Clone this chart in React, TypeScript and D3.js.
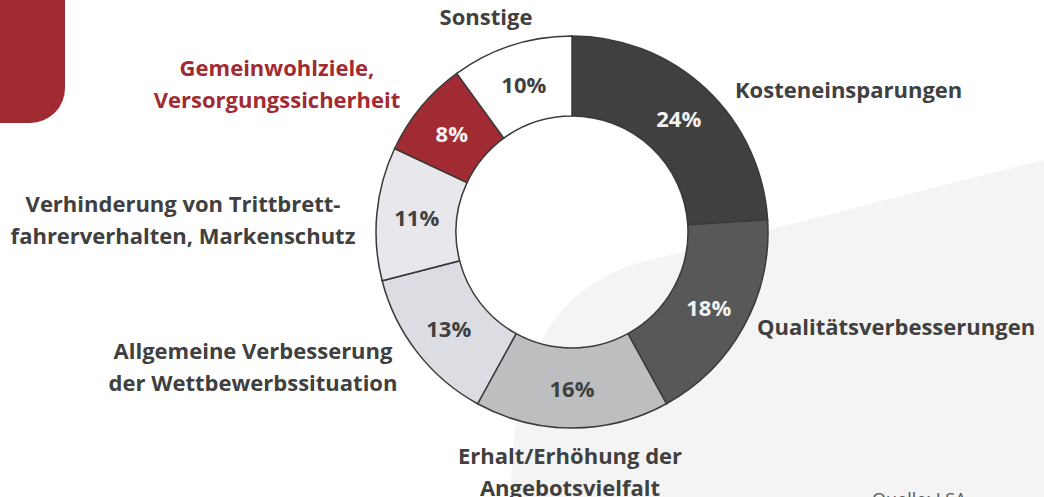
import React from "react";
import * as d3 from "d3";

const categories = [
  "Kosteneinsparungen",
  "Qualitätsverbesserungen",
  "Erhalt/Erhöhung der Angebotsvielfalt",
  "Allgemeine Verbesserung der Wettbewerbssituation",
  "Verhinderung von Trittbrettfahrerverhalten, Markenschutz",
  "Gemeinwohlziele, Versorgungssicherheit",
  "Sonstige",
];
const values = [24, 18, 16, 13, 11, 8, 10];
const labelLines = [
  ["Kosteneinsparungen"],
  ["Qualitätsverbesserungen"],
  ["Erhalt/Erhöhung der", "Angebotsvielfalt"],
  ["Allgemeine Verbesserung", "der Wettbewerbssituation"],
  ["Verhinderung von Trittbrett-", "fahrerverhalten, Markenschutz"],
  ["Gemeinwohlziele,", "Versorgungssicherheit"],
  ["Sonstige"],
];
const sliceColors = ["#404040", "#585858", "#BCBEC0", "#DCDCE3", "#E7E7EC", "#A12B32", "#FFFFFF"];
const pctColors = ["#F2F2F2", "#F2F2F2", "#404040", "#404040", "#404040", "#F2F2F2", "#404040"];
const labelColors = ["#404040", "#404040", "#404040", "#404040", "#404040", "#A12B32", "#404040"];
// label layout: [anchor, x, first baseline]
const labelLayout: [string, number, number][] = [
  ["start", 735, 98],
  ["start", 757, 335],
  ["middle", 570, 464],
  ["middle", 253, 359],
  ["middle", 183, 212],
  ["middle", 277, 76],
  ["middle", 486, 25],
];

const W = 1044;
const H = 497;
const cx = 572;
const cy = 232;
const outerR = 196;
const innerR = 116;
const FONT = "'Open Sans', Lato, sans-serif";

export default function App() {
  const pie = d3.pie<number>().sort(null).value((d) => d)(values);
  const arc = d3.arc<d3.PieArcDatum<number>>().innerRadius(innerR).outerRadius(outerR);
  const labelArc = d3
    .arc<d3.PieArcDatum<number>>()
    .innerRadius((innerR + outerR) / 2)
    .outerRadius((innerR + outerR) / 2);

  return (
    <svg
      width={W}
      height={H}
      style={{ position: "absolute", left: 0, top: 0, background: "#FFFFFF" }}
      fontFamily={FONT}
    >
      <path d="M 0 0 H 65 V 88 A 35 35 0 0 1 30 123 H 0 Z" fill="#A12B32" />
      <path d="M 511 497 C 512 380, 540 286, 650 260 L 1044 160 L 1044 497 Z" fill="#F4F4F4" />
      <text x={872} y={506} fontSize={18} fill="#595959" fontFamily={FONT}>
        Quelle: LSA
      </text>
      <g transform={`translate(${cx},${cy})`}>
        {pie.map((p, i) => (
          <path key={categories[i]} d={arc(p) || ""} fill={sliceColors[i]} stroke="#3A3A3A" strokeWidth={1.5} />
        ))}
        {pie.map((p, i) => {
          const [x, y] = labelArc.centroid(p);
          return (
            <text
              key={"p" + i}
              x={x}
              y={y}
              textAnchor="middle"
              dominantBaseline="central"
              fontSize={22}
              fontWeight={700}
              fill={pctColors[i]}
            >
              {values[i]}%
            </text>
          );
        })}
      </g>
      {labelLines.map((lines, i) => {
        const [anchor, x, y] = labelLayout[i];
        return (
          <text
            key={"l" + i}
            x={x}
            y={y}
            textAnchor={anchor as any}
            fontSize={22}
            fontWeight={700}
            fill={labelColors[i]}
          >
            {lines.map((t, j) => (
              <tspan key={j} x={x} dy={j === 0 ? 0 : 32}>
                {t}
              </tspan>
            ))}
          </text>
        );
      })}
    </svg>
  );
}
